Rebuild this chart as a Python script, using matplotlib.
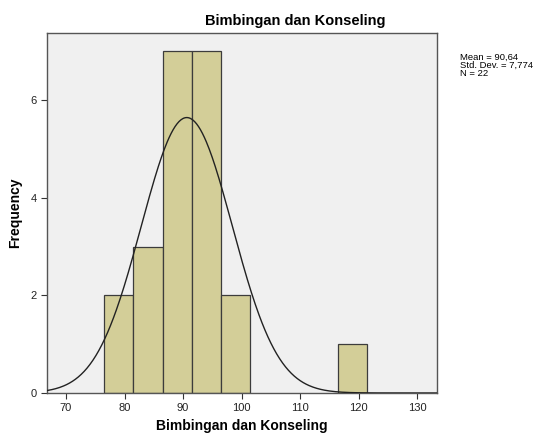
import numpy as np
import matplotlib
matplotlib.use("Agg")
import matplotlib.pyplot as plt

# histogram bins (left edges) and counts
bin_left = [76.5, 81.5, 86.5, 91.5, 96.5, 116.5]
counts = [2, 3, 7, 7, 2, 1]
bin_width = 5
mean = 90.64
sd = 7.774
n = 22
x_ticks = [70, 80, 90, 100, 110, 120, 130]
y_ticks = [0, 2, 4, 6]
stats_lines = ['Mean = 90,64', 'Std. Dev. = 7,774', 'N = 22']

plt.rcParams['font.family'] = ['Liberation Sans', 'DejaVu Sans']

fig = plt.figure(figsize=(5.42, 4.33), dpi=100)
ax = fig.add_axes([0.0867, 0.0924, 0.7196, 0.8316])
ax.set_facecolor('#f0f0f0')

ax.bar(bin_left, counts, width=bin_width, align='edge',
       color='#d3ce98', edgecolor='#3c3c3c', linewidth=0.9, zorder=2)

# normal curve scaled to frequency
xs = np.linspace(66.75, 133.4, 400)
ys = n * bin_width / (sd * np.sqrt(2 * np.pi)) * np.exp(-0.5 * ((xs - mean) / sd) ** 2)
ax.plot(xs, ys, color='#222222', linewidth=1.0, zorder=3)

ax.set_xlim(66.75, 133.4)
ax.set_ylim(0, 7.38)
ax.set_xticks(x_ticks)
ax.set_yticks(y_ticks)
ax.tick_params(direction='out', length=4, width=0.8, colors='#333333', labelsize=8, labelcolor='#222222')
for s in ax.spines.values():
    s.set_color('#555555')
    s.set_linewidth(1.0)

fig.text(0.544, 0.951, 'Bimbingan dan Konseling', fontsize=10.5, fontweight='bold',
         ha='center', va='center')
ax.set_xlabel('Bimbingan dan Konseling', fontsize=10, fontweight='bold', labelpad=4)
ax.set_ylabel('Frequency', fontsize=10, fontweight='bold', labelpad=6)

# stats box text, one line at a time
for i, line in enumerate(stats_lines):
    fig.text(0.849, 1 - (57.5 + 8 * i) / 433, line, fontsize=6.8,
             va='center', ha='left')

fig.savefig('out.png', dpi=100, facecolor='white')
